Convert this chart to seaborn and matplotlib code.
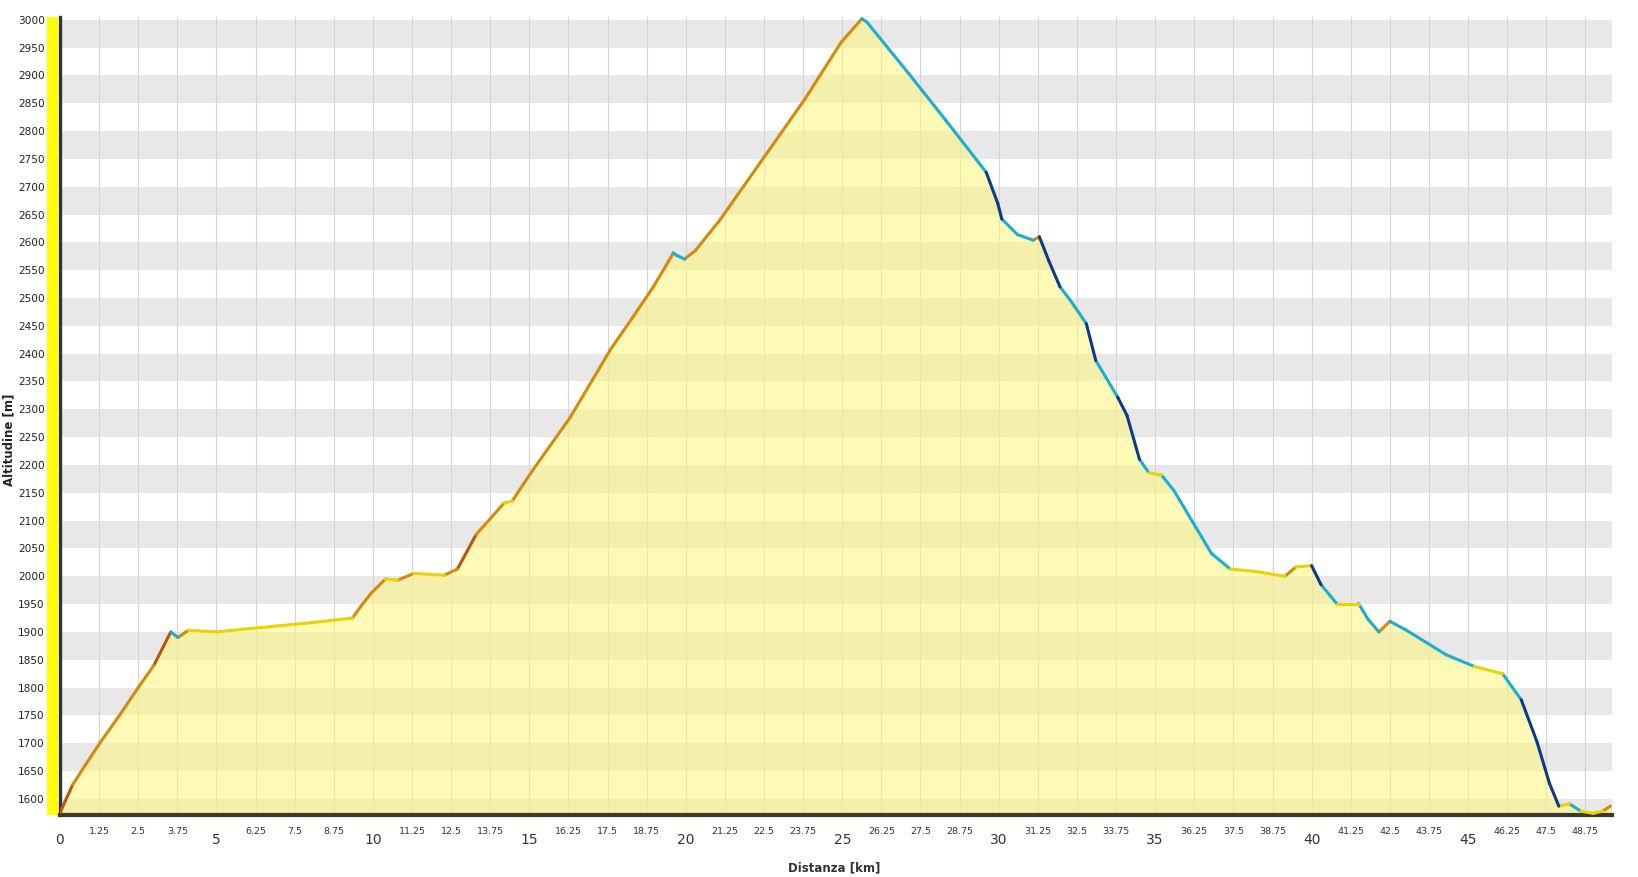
import numpy as np
import pandas as pd
import seaborn as sns
import matplotlib.pyplot as plt
from matplotlib.patches import Rectangle
from matplotlib.ticker import FixedLocator, FuncFormatter

# profilo altimetrico
distanza = [0.0, 0.4, 0.8, 1.27, 1.9, 2.5, 3.0, 3.54, 3.77, 4.1, 5.0, 6.44, 8.1,
            9.35, 9.6, 9.95, 10.4, 10.8, 11.3, 12.28, 12.7, 13.3, 14.2, 14.45,
            15.1, 16.3, 17.6, 18.3, 18.96, 19.46, 19.6, 19.7, 19.96, 20.3, 21.1,
            22.4, 23.8, 24.97, 25.63, 25.8, 27.1, 28.3, 29.6, 29.97, 30.1, 30.6,
            31.1, 31.3, 31.6, 31.96, 32.3, 32.8, 33.1, 33.8, 34.1, 34.5, 34.8,
            35.2, 35.6, 36.3, 36.8, 37.4, 38.15, 39.15, 39.5, 40.0, 40.3, 40.8,
            41.5, 41.8, 42.15, 42.5, 43.0, 44.3, 45.2, 46.1, 46.7, 47.2, 47.6,
            47.9, 48.24, 48.6, 49.0, 49.3, 49.55]
altitudine = [1575, 1625, 1660, 1700, 1750, 1800, 1840, 1900, 1890, 1903, 1900,
              1908, 1917, 1925, 1945, 1970, 1995, 1993, 2005, 2002, 2013, 2075,
              2132, 2135, 2190, 2285, 2408, 2465, 2520, 2567, 2581, 2577, 2570,
              2585, 2641, 2745, 2857, 2960, 3002, 2995, 2905, 2820, 2726, 2670,
              2642, 2614, 2604, 2610, 2567, 2520, 2495, 2454, 2388, 2322, 2289,
              2210, 2186, 2182, 2154, 2088, 2041, 2013, 2009, 2000, 2017, 2019,
              1985, 1951, 1951, 1923, 1900, 1919, 1904, 1859, 1838, 1825, 1778,
              1703, 1628, 1587, 1591, 1578, 1574, 1578, 1587]

y_ticks = list(range(1600, 3001, 50))
x_major = [0, 5, 10, 15, 20, 25, 30, 35, 40, 45]
x_minor = [1.25, 2.5, 3.75, 6.25, 7.5, 8.75, 11.25, 12.5, 13.75, 16.25, 17.5,
           18.75, 21.25, 22.5, 23.75, 26.25, 27.5, 28.75, 31.25, 32.5, 33.75,
           36.25, 37.5, 38.75, 41.25, 42.5, 43.75, 46.25, 47.5, 48.75]

colori = {'salita ripida': '#b8560c', 'salita': '#d48a0c', 'piano': '#e8d400',
          'discesa': '#1aaed2', 'discesa ripida': '#0b3a8c'}


def classe(p):
    if p > 100:
        return 'salita ripida'
    if p > 20:
        return 'salita'
    if p > -20:
        return 'piano'
    if p > -100:
        return 'discesa'
    return 'discesa ripida'


# segmenti in formato lungo per seaborn
righe = []
for i in range(len(distanza) - 1):
    p = (altitudine[i + 1] - altitudine[i]) / (distanza[i + 1] - distanza[i])
    c = classe(p)
    righe.append((i, distanza[i], altitudine[i], c))
    righe.append((i, distanza[i + 1], altitudine[i + 1], c))
seg = pd.DataFrame(righe, columns=['seg', 'km', 'm', 'classe'])

sns.set_style('white')
plt.rcParams['font.family'] = ['DejaVu Sans']

fig = plt.figure(figsize=(16.38, 8.77), dpi=100)
ax = fig.add_axes([60 / 1638, 1 - 815 / 877, 1552 / 1638, 798 / 877])
ax.set_axisbelow('line')

y0, y1 = 1571, 3005
x1 = 49.6
for b in range(1550, 3000, 100):
    ax.axhspan(b, b + 50, color='#e8e8e8', lw=0, zorder=0)

ax.fill_between(distanza, altitudine, y0, color='#fff67a', alpha=0.55,
                lw=0, zorder=2)
sns.lineplot(data=seg, x='km', y='m', hue='classe', units='seg',
             estimator=None, palette=colori, legend=False, lw=2.2,
             solid_capstyle='round', ax=ax, zorder=3)

ax.set_xlim(0, x1)
ax.set_ylim(y0, y1)

# striscia gialla a sinistra
ax.add_patch(Rectangle((-0.0085, 0), 0.0075, 1, transform=ax.transAxes,
                       color='#ffff00', clip_on=False, zorder=1, lw=0))

ax.xaxis.set_major_locator(FixedLocator(x_major))
ax.xaxis.set_minor_locator(FixedLocator(x_minor))
ax.xaxis.set_minor_formatter(FuncFormatter(lambda v, p: f'{v:g}'))
ax.xaxis.set_major_formatter(FuncFormatter(lambda v, p: f'{v:g}'))
ax.set_yticks(y_ticks)

ax.grid(False)
for xv in x_major + x_minor:
    ax.axvline(xv, color='#d4d4d4', lw=0.8, zorder=1.5)

ax.tick_params(axis='x', which='major', length=10, width=3.2, color='#111',
               labelsize=10, pad=3, labelcolor='#333')
ax.tick_params(axis='x', which='minor', length=4.5, width=1.6, color='#111',
               labelsize=6.8, pad=4, labelcolor='#333')
ax.tick_params(axis='y', length=9.4, width=1.4, color='#222', labelsize=7.6,
               pad=1.5, labelcolor='#222')

for s in ['top', 'right']:
    ax.spines[s].set_visible(False)
ax.spines['left'].set_color('#333')
ax.spines['left'].set_linewidth(2.4)
ax.spines['bottom'].set_color('#3a3a28')
ax.spines['bottom'].set_linewidth(3)

ax.set_xlabel('Distanza [km]', fontsize=8.5, fontweight='bold', color='#333')
ax.set_ylabel('Altitudine [m]', fontsize=8.5, fontweight='bold', color='#222')
ax.xaxis.set_label_coords(0.499, -0.058)
ax.yaxis.set_label_coords(-0.0285, 0.47)

fig.savefig('out.png', dpi=100)
